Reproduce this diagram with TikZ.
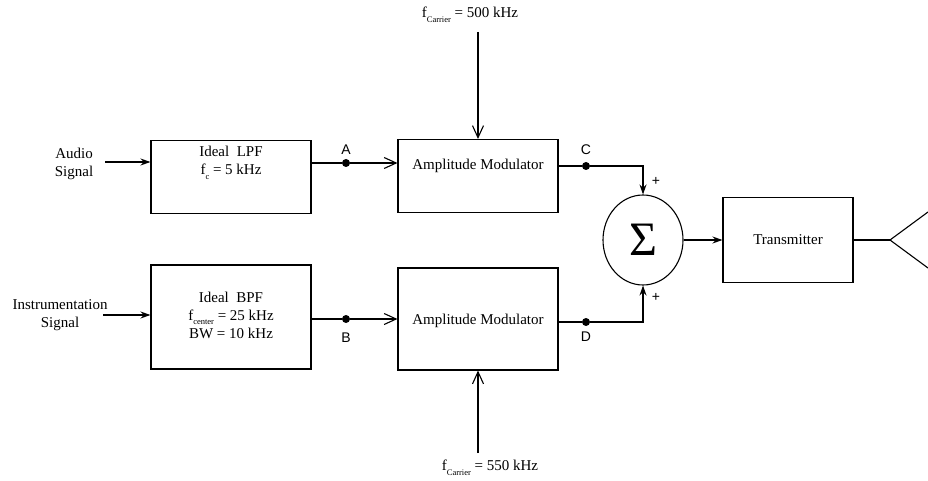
\documentclass[tikz,border=0pt]{standalone}
\usepackage{fontspec}
\setmainfont{Liberation Serif}
\newfontfamily\lblfont{Liberation Sans}
\usetikzlibrary{arrows.meta,shapes.geometric}
\newcommand\subtext[1]{\raisebox{-0.3em}{\fontsize{8.5}{9}\selectfont #1}}
\begin{document}
\begin{tikzpicture}[x=1pt,y=-1pt]
\tikzset{
 blk/.style={draw, line width=1.1pt, minimum width=160pt, inner sep=0pt, font=\fontsize{15}{17}\selectfont},
 lbl/.style={font=\fontsize{15}{18}\selectfont, align=center, inner sep=0pt},
 pt/.style={circle, fill, inner sep=0pt, minimum size=8pt},
 ptlbl/.style={font=\lblfont\fontsize{14}{14}\selectfont, inner sep=0pt},
 wire/.style={line width=1.1pt},
 openarr/.style={wire, -{Straight Barb[length=12pt,width=11pt]}},
 filarr/.style={wire, -{Stealth[length=10pt,width=7pt]}},
}
\useasboundingbox (0,0) rectangle (928,481);
% blocks
\node[blk, minimum height=73pt] (lpf) at (231,177) {};
\node[lbl] (lpftxt) at (231,163) {Ideal\ \ LPF\\f\subtext{c} = 5 kHz};
\node[blk, minimum height=104pt] (bpf) at (231,317) {};
\node[lbl] (bpftxt) at (231,315) {Ideal\ \ BPF\\f\subtext{center} = 25 kHz\\BW = 10 kHz};
\node[blk, minimum height=73pt] (am1) at (478,176) {};
\node[lbl] (am1txt) at (478,166) {Amplitude Modulator};
\node[blk, minimum height=102pt] (am2) at (478,319) {};
\node[lbl] (am2txt) at (478,321) {Amplitude Modulator};
\node[draw, ellipse, line width=1.1pt, minimum width=80pt, minimum height=90pt, inner sep=0pt,
      font=\fontsize{48}{48}\selectfont] (sum) at (643,240) {Σ};
\node[blk, minimum width=130pt, minimum height=85pt] (tx) at (788,240) {Transmitter};
% points
\node[pt] (A) at (346,163) {};
\node[ptlbl] (Al) at (346,150) {A};
\node[pt] (B) at (346,319) {};
\node[ptlbl] (Bl) at (346,338) {B};
\node[pt] (C) at (586,166) {};
\node[ptlbl] (Cl) at (586,150) {C};
\node[pt] (D) at (586,322) {};
\node[ptlbl] (Dl) at (586,337) {D};
\node[ptlbl] (p1) at (656,181) {+};
\node[ptlbl] (p2) at (656,297) {+};
% inputs
\node[lbl] (audio) at (74,164) {Audio\\Signal};
\coordinate (audioin) at (105,162);
\draw[filarr] (audioin) -- (lpf.west |- audioin);
\node[lbl] (instr) at (60,315) {Instrumentation\\Signal};
\coordinate (instrin) at (103,315);
\draw[filarr] (instrin) -- (bpf.west |- instrin);
% wires
\draw[wire] (lpf.east |- A) -- (A);
\draw[openarr] (A) -- (am1.west |- A);
\draw[wire] (bpf.east |- B) -- (B);
\draw[openarr] (B) -- (am2.west |- B);
\draw[wire] (am1.east |- C) -- (C);
\draw[filarr] (C) -| (sum.north);
\draw[wire] (am2.east |- D) -- (D);
\draw[filarr] (D) -| (sum.south);
\draw[filarr] (sum.east) -- (tx.west);
% carriers
\node[lbl] (fc1) at (470,15) {f\subtext{Carrier} = 500 kHz};
\coordinate (c1) at (478,32);
\draw[openarr] (c1) -- (am1.north);
\node[lbl] (fc2) at (490,468) {f\subtext{Carrier} = 550 kHz};
\coordinate (c2) at (478,453);
\draw[openarr] (c2) -- (am2.south);
% antenna
\coordinate (ant) at (890,240);
\coordinate (antU) at (928,212);
\coordinate (antL) at (928,268);
\draw[wire] (tx.east) -- (ant);
\draw[wire] (antU) -- (ant) -- (antL);
\end{tikzpicture}
\end{document}
